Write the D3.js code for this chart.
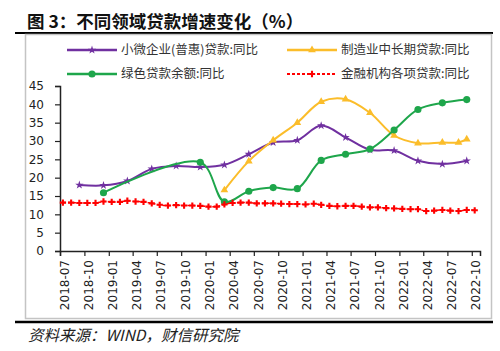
<!DOCTYPE html>
<html>
<head>
<meta charset="utf-8">
<script src="https://cdn.jsdelivr.net/npm/d3@7"></script>
<style>
  body { margin: 0; background: #fff; }
</style>
</head>
<body>
<div id="chart"></div>
<script>
// x axis labels (quarterly)
const tickLabels = ['2018-07', '2018-10', '2019-01', '2019-04', '2019-07', '2019-10',
  '2020-01', '2020-04', '2020-07', '2020-10', '2021-01', '2021-04', '2021-07', '2021-10',
  '2022-01', '2022-04', '2022-07', '2022-10']

// 金融机构各项贷款:同比 (monthly 2018-07 .. 2022-10)
const loanStart = '2018-07'
const loanEnd = '2022-10'
const loanVals = [13.2, 13.2, 13.1, 13.1, 13.1, 13.5,
  13.4, 13.4, 13.7, 13.5, 13.4, 13.0, 12.6, 12.4, 12.5, 12.4, 12.4, 12.3,
  12.1, 12.1, 12.7, 13.1, 13.2, 13.2, 13.0, 13.0, 13.0, 12.9, 12.8, 12.8,
  12.7, 12.9, 12.6, 12.3, 12.2, 12.3, 12.3, 12.1, 11.9, 11.9, 11.7, 11.6,
  11.5, 11.4, 11.4, 10.9, 11.0, 11.2, 11.0, 10.9, 11.2, 11.1]

// 小微企业(普惠)贷款:同比
const smallDates = ['2018-09', '2018-12', '2019-03', '2019-06', '2019-09', '2019-12',
  '2020-03', '2020-06', '2020-09', '2020-12', '2021-03', '2021-06', '2021-09', '2021-12',
  '2022-03', '2022-06', '2022-09']
const smallVals = [18.0, 17.9, 19.1, 22.4, 23.2, 22.9, 23.5, 26.4, 29.6, 30.2, 34.2,
  31.0, 27.6, 27.4, 24.6, 23.7, 24.6]

// 制造业中长期贷款:同比
const mfgDates = ['2020-03', '2020-06', '2020-09', '2020-12', '2021-03', '2021-06',
  '2021-09', '2021-12', '2022-03', '2022-06', '2022-08', '2022-09']
const mfgVals = [16.6, 24.5, 30.2, 35.0, 40.7, 41.4, 37.7, 31.5, 29.4, 29.6, 29.6, 30.5]

// 绿色贷款余额:同比
const greenDates = ['2018-12', '2019-12', '2020-03', '2020-06', '2020-09', '2020-12',
  '2021-03', '2021-06', '2021-09', '2021-12', '2022-03', '2022-06', '2022-09']
const greenVals = [15.9, 24.2, 13.4, 16.3, 17.3, 17.0, 24.7, 26.4, 27.8, 33.0, 38.6, 40.4, 41.3]

const yTicks = [0, 5, 10, 15, 20, 25, 30, 35, 40, 45]

const width = 500
const height = 351

const parseMonth = d3.timeParse('%Y-%m')
// points sit a little inside their month
const pointDate = s => d3.timeDay.offset(parseMonth(s), 11)

const svg = d3
  .select('#chart')
  .append('svg')
  .attr('width', width)
  .attr('height', height)
  .style('display', 'block')

// title
svg
  .append('text')
  .attr('x', 27)
  .attr('y', 28)
  .attr('font-family', '"Noto Sans CJK SC", sans-serif')
  .attr('font-weight', 700)
  .attr('font-size', 17.5)
  .attr('fill', '#111')
  .text('图 3：不同领域贷款增速变化（%）')

svg.append('line')
  .attr('x1', 15).attr('x2', 493)
  .attr('y1', 33).attr('y2', 33)
  .attr('stroke', '#000').attr('stroke-width', 2)

svg.append('rect')
  .attr('x', 25.5).attr('y', 34.5)
  .attr('width', 466).attr('height', 284)
  .attr('fill', 'none')
  .attr('stroke', '#c4c4c4').attr('stroke-width', 1.5)

svg.append('line')
  .attr('x1', 15).attr('x2', 493)
  .attr('y1', 322).attr('y2', 322)
  .attr('stroke', '#000').attr('stroke-width', 2.5)

svg
  .append('text')
  .attr('x', 28)
  .attr('y', 341)
  .attr('font-family', '"Noto Sans CJK SC", serif')
  .attr('font-style', 'italic')
  .attr('font-size', 15.5)
  .attr('fill', '#222')
  .text('资料来源：WIND，财信研究院')

// scales
const x = d3
  .scaleTime()
  .domain([parseMonth('2018-07'), parseMonth('2022-11')])
  .range([60, 480])

const y = d3
  .scaleLinear()
  .domain([0, 45])
  .range([251, 86])

// axes
const yAxis = svg
  .append('g')
  .attr('transform', 'translate(60,0)')
  .call(d3.axisLeft(y).tickValues(yTicks).tickSize(5).tickPadding(11).tickFormat(d3.format('d')))

const xAxis = svg
  .append('g')
  .attr('transform', 'translate(0,251)')
  .call(d3.axisBottom(x).tickValues(tickLabels.map(parseMonth)).tickSize(5).tickFormat(d3.timeFormat('%Y-%m')))

xAxis
  .selectAll('text')
  .attr('transform', 'rotate(-90)')
  .attr('text-anchor', 'end')
  .attr('x', -9)
  .attr('y', 4)
  .attr('dy', '0.35em')

for (const ax of [xAxis, yAxis]) {
  ax.select('.domain').attr('stroke', '#222').attr('stroke-width', 1.5)
  ax.selectAll('.tick line').attr('stroke', '#222').attr('stroke-width', 1.2)
  ax.selectAll('text')
    .attr('font-family', '"DejaVu Sans", sans-serif')
    .attr('font-size', 12)
    .attr('fill', '#222')
}

// series
const curve = d3.curveCatmullRom.alpha(0.5)
const line = d3
  .line()
  .x(d => x(d.date))
  .y(d => y(d.value))
  .curve(curve)

const loanMonths = d3.timeMonth.range(parseMonth(loanStart), d3.timeMonth.offset(parseMonth(loanEnd), 1))
const loanData = loanMonths.map((m, i) => ({ date: d3.timeDay.offset(m, 11), value: loanVals[i] }))
const smallData = smallDates.map((d, i) => ({ date: pointDate(d), value: smallVals[i] }))
const mfgData = mfgDates.map((d, i) => ({ date: pointDate(d), value: mfgVals[i] }))
const greenData = greenDates.map((d, i) => ({ date: pointDate(d), value: greenVals[i] }))

const series = [
  { name: '小微企业(普惠)贷款:同比', data: smallData, color: '#7030a0', symbol: d3.symbolStar, size: 22, dash: null, width: 2 },
  { name: '制造业中长期贷款:同比', data: mfgData, color: '#fbbd2a', symbol: d3.symbolTriangle, size: 26, dash: null, width: 2 },
  { name: '绿色贷款余额:同比', data: greenData, color: '#1ea64b', symbol: d3.symbolCircle, size: 40, dash: null, width: 2 },
  { name: '金融机构各项贷款:同比', data: loanData, color: '#ff0000', symbol: d3.symbolCross, size: 22, dash: '3,2', width: 1.5 }
]

series.forEach(s => {
  svg
    .append('path')
    .datum(s.data)
    .attr('d', line)
    .attr('fill', 'none')
    .attr('stroke', s.color)
    .attr('stroke-width', s.width)
    .attr('stroke-dasharray', s.dash)

  svg
    .selectAll(null)
    .data(s.data)
    .enter()
    .append('path')
    .attr('d', d3.symbol().type(s.symbol).size(s.size))
    .attr('transform', d => `translate(${x(d.date)},${y(d.value)})`)
    .attr('fill', s.color)
})

// legend
const legendPos = [
  { x: 67, y: 50 },
  { x: 287, y: 50 },
  { x: 67, y: 74 },
  { x: 287, y: 74 }
]
const legendOrder = [0, 1, 2, 3]

legendOrder.forEach((si, i) => {
  const s = series[si]
  const p = legendPos[i]
  const g = svg.append('g').attr('transform', `translate(${p.x},${p.y})`)
  g.append('line')
    .attr('x1', 0).attr('x2', 50)
    .attr('stroke', s.color)
    .attr('stroke-width', s.width + 0.5)
    .attr('stroke-dasharray', s.dash)
  g.append('path')
    .attr('d', d3.symbol().type(s.symbol).size(s.size))
    .attr('transform', 'translate(25,0)')
    .attr('fill', s.color)
  g.append('text')
    .attr('x', 54)
    .attr('dy', '0.35em')
    .attr('font-family', '"Noto Sans CJK SC", sans-serif')
    .attr('font-size', 12.5)
    .attr('fill', '#333')
    .text(s.name)
})
</script>
</body>
</html>
